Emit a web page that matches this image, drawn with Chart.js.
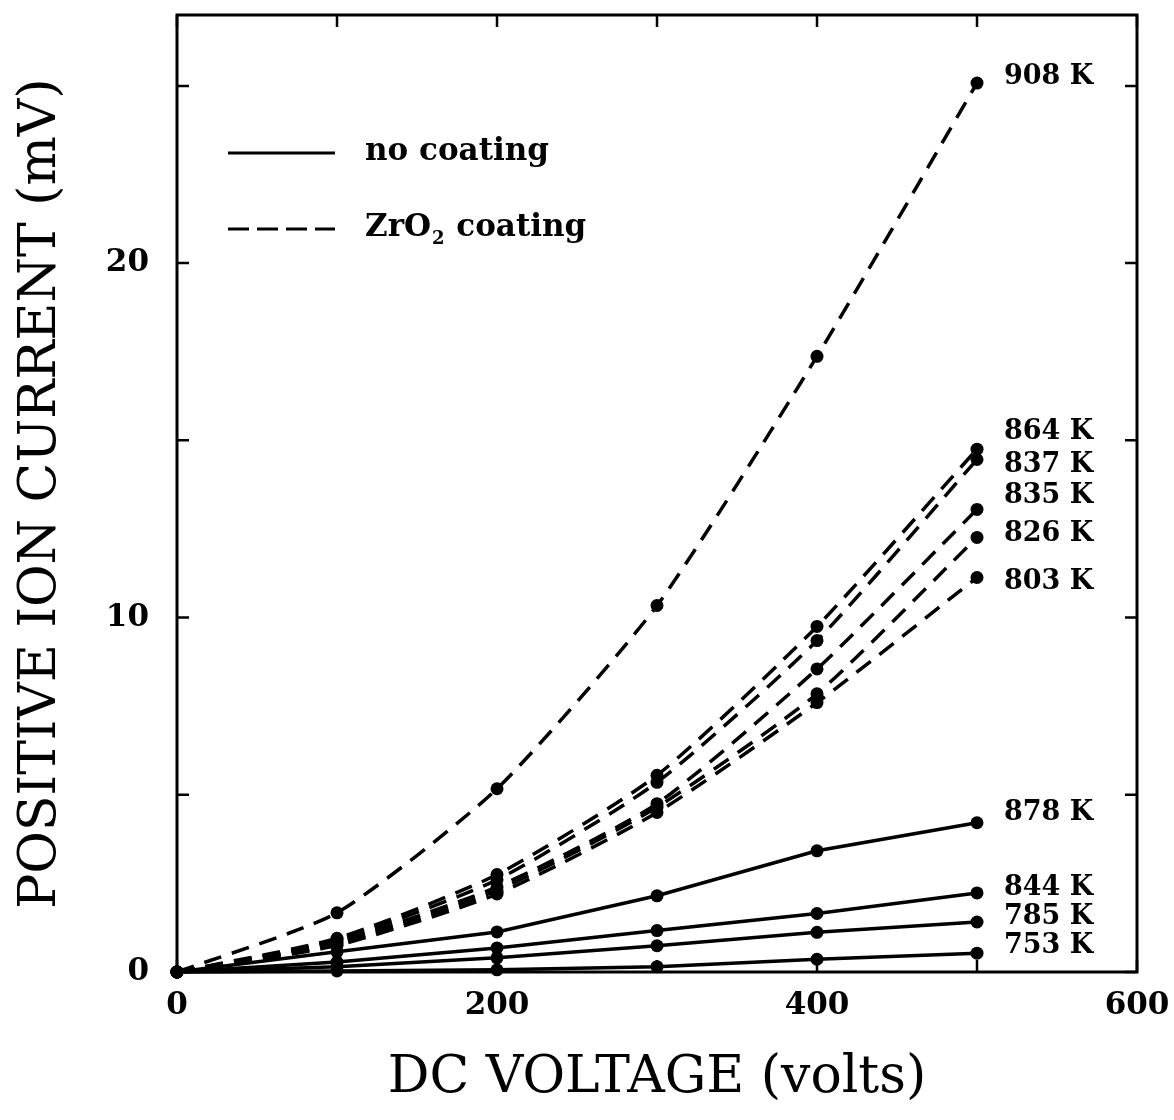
<!DOCTYPE html>
<html>
<head>
<meta charset="utf-8">
<script src="https://cdn.jsdelivr.net/npm/chart.js@4"></script>
<style>
    html, body { margin: 0; padding: 0; background: #fff; }
    #wrap { width: 1174px; height: 1120px; }
</style>
</head>
<body>
<div id="wrap"><canvas id="chartIonCurrent"></canvas></div>
<script>
// DC voltage (volts)
const voltages = [0, 100, 200, 300, 400, 500];

// ZrO2 coated runs (mV)
const zr908 = [0, 1.67, 5.17, 10.34, 17.37, 25.08];
const zr864 = [0, 0.95, 2.75, 5.55, 9.75, 14.75];
const zr837 = [0, 0.90, 2.60, 5.35, 9.35, 14.46];
const zr835 = [0, 0.85, 2.40, 4.75, 8.55, 13.05];
const zr826 = [0, 0.80, 2.30, 4.65, 7.85, 12.26];
const zr803 = [0, 0.75, 2.20, 4.50, 7.60, 11.13];

// uncoated runs (mV)
const bare878 = [0, 0.57, 1.13, 2.15, 3.42, 4.21];
const bare844 = [0, 0.28, 0.68, 1.17, 1.65, 2.23];
const bare785 = [0, 0.15, 0.40, 0.74, 1.12, 1.41];
const bare753 = [0, 0.03, 0.06, 0.15, 0.36, 0.53];

const xTicks = [0, 100, 200, 300, 400, 500, 600];
const xLabelled = [0, 200, 400, 600];
const yTicks = [0, 5, 10, 15, 20, 25];
const yLabelled = [0, 10, 20];

const coatedSeries = [
    ['908 K', zr908], ['864 K', zr864], ['837 K', zr837],
    ['835 K', zr835], ['826 K', zr826], ['803 K', zr803]
];
const bareSeries = [
    ['878 K', bare878], ['844 K', bare844], ['785 K', bare785], ['753 K', bare753]
];

const DASH = [18, 11];
const boldFont = "bold 27px 'DejaVu Serif', serif";

function makeDataset(label, values, dashed) {
    return {
        label: label,
        data: voltages.map((v, i) => ({ x: v, y: values[i] })),
        borderColor: '#000',
        backgroundColor: '#000',
        borderWidth: 3.5,
        borderDash: dashed ? DASH : [],
        tension: dashed ? 0.2 : 0,
        pointRadius: 6.5,
        pointBackgroundColor: '#000',
        pointBorderWidth: 0,
        clip: false
    };
}

let datasets = [];
coatedSeries.forEach(s => datasets.push(makeDataset(s[0], s[1], true)));
bareSeries.forEach(s => datasets.push(makeDataset(s[0], s[1], false)));

// small vertical nudges so the end labels don't overlap
const labelNudge = {
    '908 K': -6, '864 K': -17, '837 K': 6, '835 K': -13, '826 K': -3, '803 K': 4,
    '878 K': -10, '844 K': -5, '785 K': -5, '753 K': -7
};

const framePlugin = {
    id: 'framePlugin',
    afterDatasetsDraw(chart) {
        const ctx = chart.ctx;
        const a = chart.chartArea;
        const xs = chart.scales.x;
        const ys = chart.scales.y;
        ctx.save();
        ctx.strokeStyle = '#000';
        ctx.lineWidth = 3;
        ctx.setLineDash([]);
        ctx.strokeRect(a.left, a.top, a.right - a.left, a.bottom - a.top);

        // inward ticks on all four sides
        ctx.lineWidth = 2.5;
        ctx.beginPath();
        xTicks.forEach(v => {
            const px = xs.getPixelForValue(v);
            ctx.moveTo(px, a.bottom); ctx.lineTo(px, a.bottom - 12);
            ctx.moveTo(px, a.top); ctx.lineTo(px, a.top + 12);
        });
        yTicks.forEach(v => {
            const py = ys.getPixelForValue(v);
            ctx.moveTo(a.left, py); ctx.lineTo(a.left + 12, py);
            ctx.moveTo(a.right, py); ctx.lineTo(a.right - 12, py);
        });
        ctx.stroke();

        // temperature labels at the end of each curve
        ctx.fillStyle = '#000';
        ctx.font = boldFont;
        ctx.textAlign = 'left';
        ctx.textBaseline = 'middle';
        chart.data.datasets.forEach((ds, i) => {
            const pts = chart.getDatasetMeta(i).data;
            const last = pts[pts.length - 1];
            ctx.fillText(ds.label, last.x + 27, last.y + (labelNudge[ds.label] || 0));
        });

        // legend
        const lx0 = 228, lx1 = 335;
        ctx.lineWidth = 3;
        ctx.beginPath();
        ctx.moveTo(lx0, 153); ctx.lineTo(lx1, 153);
        ctx.stroke();
        ctx.setLineDash([21, 8]);
        ctx.beginPath();
        ctx.moveTo(lx0, 229); ctx.lineTo(lx1, 229);
        ctx.stroke();
        ctx.setLineDash([]);

        ctx.font = "bold 31px 'DejaVu Serif', serif";
        ctx.fillText('no coating', 365, 152);
        ctx.fillText('ZrO', 365, 228);
        let w = ctx.measureText('ZrO').width;
        ctx.font = "bold 18px 'DejaVu Serif', serif";
        ctx.fillText('2', 365 + w + 1, 239);
        let w2 = ctx.measureText('2').width;
        ctx.font = "bold 31px 'DejaVu Serif', serif";
        ctx.fillText(' coating', 365 + w + w2 + 2, 228);
        ctx.restore();
    }
};

function initChart() {
    const canvas = document.getElementById('chartIonCurrent');
    new Chart(canvas, {
        type: 'line',
        data: { datasets: datasets },
        options: {
            responsive: true,
            maintainAspectRatio: false,
            animation: false,
            layout: { padding: { top: 15, right: 37, left: 0, bottom: 0 } },
            plugins: {
                legend: { display: false },
                tooltip: { enabled: false }
            },
            scales: {
                x: {
                    type: 'linear',
                    min: 0,
                    max: 600,
                    afterFit: s => {
                        s.height = 148;
                        s.paddingLeft = 0;
                        s.paddingRight = 0;
                    },
                    afterBuildTicks: s => { s.ticks = xTicks.map(v => ({ value: v })); },
                    grid: { display: false, drawTicks: false },
                    border: { display: false },
                    ticks: {
                        padding: 15,
                        maxRotation: 0,
                        autoSkip: false,
                        color: '#000',
                        font: { family: "'DejaVu Serif', serif", weight: 'bold', size: 31 },
                        callback: v => xLabelled.includes(v) ? String(v) : ''
                    },
                    title: {
                        display: true,
                        text: 'DC VOLTAGE (volts)',
                        color: '#000',
                        font: { family: "'DejaVu Serif', serif", size: 52 },
                        padding: { top: 0, bottom: 10 }
                    }
                },
                y: {
                    type: 'linear',
                    min: 0,
                    max: 27,
                    afterFit: s => {
                        s.width = 177;
                        s.paddingTop = 0;
                        s.paddingBottom = 0;
                    },
                    afterBuildTicks: s => { s.ticks = yTicks.map(v => ({ value: v })); },
                    grid: { display: false, drawTicks: false },
                    border: { display: false },
                    ticks: {
                        padding: 28,
                        autoSkip: false,
                        color: '#000',
                        font: { family: "'DejaVu Serif', serif", weight: 'bold', size: 31 },
                        callback: v => yLabelled.includes(v) ? String(v) : ''
                    },
                    title: {
                        display: true,
                        text: 'POSITIVE ION CURRENT (mV)',
                        color: '#000',
                        font: { family: "'DejaVu Serif', serif", size: 52 },
                        padding: { top: 10, bottom: 0 }
                    }
                }
            }
        },
        plugins: [framePlugin]
    });
}

window.addEventListener('load', initChart);
</script>
</body>
</html>
